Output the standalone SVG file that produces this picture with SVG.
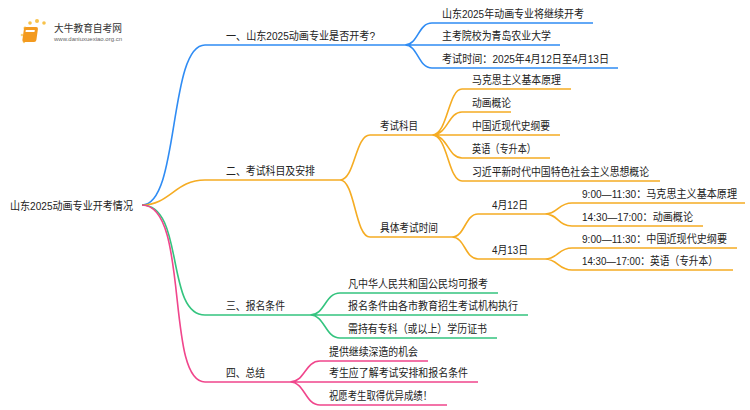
<svg xmlns="http://www.w3.org/2000/svg" width="750" height="410" viewBox="0 0 750 410">
<style>
text{font-family:"Liberation Sans","Noto Sans CJK SC",sans-serif;font-size:11.5px;fill:#222}
path{fill:none;stroke-width:1.6}
.b{stroke:#2f8cf4}.o{stroke:#f5ac23}.g{stroke:#34c47f}.p{stroke:#f0468c}
</style>
<rect width="750" height="410" fill="#fff"/>
<g id="logo">
<circle cx="25" cy="28" r="1.5" fill="#f8c24a"/><circle cx="30" cy="23" r="1.8" fill="#f8c24a"/><circle cx="37" cy="21" r="2" fill="#f8c24a"/><circle cx="44" cy="23" r="1.8" fill="#f8c24a"/><circle cx="22" cy="35" r="1.3" fill="#f8d27a"/><circle cx="24" cy="42" r="1.2" fill="#f8d27a"/>
<rect x="28" y="27" width="14" height="15" rx="2" fill="#f39a1f" transform="skewX(-8)"/>
<rect x="30" y="30" width="9" height="2" fill="#fff" transform="skewX(-8)"/>
<text x="54" y="32" textLength="68" lengthAdjust="spacingAndGlyphs" style="font-size:10px;fill:#333">大牛教育自考网</text>
<text x="54" y="41" textLength="68" lengthAdjust="spacingAndGlyphs" style="font-size:5px;fill:#666">www.daniuxuexiao.org.cn</text>
</g>
<g id="connectors">
<path class="b" d="M142 205C180 205 168 45 205 45H405M405 45C418 45 418 23 432 23H593M405 45H560M405 45C418 45 418 68 432 68H618"/>
<path class="o" d="M142 205C170 205 175 180 205 180H340M340 180C355 180 355 135 370 135H432M340 180C355 180 355 237 370 237H452"/>
<path class="o" d="M432 135C448 135 448 89 462 89H571M432 135C448 135 448 112 462 112H511M432 135H560M432 135C448 135 448 158 462 158H550M432 135C448 135 448 181 462 181H660"/>
<path class="o" d="M452 237C465 237 465 214 478 214H545M452 237C465 237 465 259 478 259H545"/>
<path class="o" d="M545 214C558 214 558 203 572 203H745M545 214C558 214 558 226 572 226H703M545 259C558 259 558 248 572 248H737M545 259C558 259 558 270 572 270H733"/>
<path class="g" d="M142 205C185 205 165 315 205 315H310M310 315C325 315 325 293 340 293H498M310 315H528M310 315C325 315 325 338 340 338H497"/>
<path class="p" d="M142 205C190 205 165 382 205 382H290M290 382C305 382 305 361 320 361H428M290 382H478M290 382C305 382 305 405 320 405H447"/>
</g>
<g id="root"><text x="10" y="210" textLength="123" lengthAdjust="spacingAndGlyphs">山东2025动画专业开考情况</text></g>
<g id="n1"><text x="226" y="40" textLength="149" lengthAdjust="spacingAndGlyphs">一、山东2025动画专业是否开考?</text>
<text x="442" y="18" textLength="142" lengthAdjust="spacingAndGlyphs">山东2025年动画专业将继续开考</text>
<text x="442" y="40" textLength="109" lengthAdjust="spacingAndGlyphs">主考院校为青岛农业大学</text>
<text x="442" y="63" textLength="167" lengthAdjust="spacingAndGlyphs">考试时间：2025年4月12日至4月13日</text></g>
<g id="n2"><text x="226" y="175" textLength="89" lengthAdjust="spacingAndGlyphs">二、考试科目及安排</text>
<text x="380" y="130" textLength="38" lengthAdjust="spacingAndGlyphs">考试科目</text>
<text x="472" y="84" textLength="89" lengthAdjust="spacingAndGlyphs">马克思主义基本原理</text>
<text x="472" y="107" textLength="39" lengthAdjust="spacingAndGlyphs">动画概论</text>
<text x="472" y="130" textLength="78" lengthAdjust="spacingAndGlyphs">中国近现代史纲要</text>
<text x="472" y="153" textLength="64" lengthAdjust="spacingAndGlyphs">英语（专升本）</text>
<text x="472" y="176" textLength="177" lengthAdjust="spacingAndGlyphs">习近平新时代中国特色社会主义思想概论</text>
<text x="380" y="232" textLength="58" lengthAdjust="spacingAndGlyphs">具体考试时间</text>
<text x="492" y="209" textLength="36" lengthAdjust="spacingAndGlyphs">4月12日</text>
<text x="492" y="254" textLength="36" lengthAdjust="spacingAndGlyphs">4月13日</text>
<text x="582" y="198" textLength="155" lengthAdjust="spacingAndGlyphs">9:00—11:30：马克思主义基本原理</text>
<text x="582" y="221" textLength="111" lengthAdjust="spacingAndGlyphs">14:30—17:00：动画概论</text>
<text x="582" y="243" textLength="145" lengthAdjust="spacingAndGlyphs">9:00—11:30：中国近现代史纲要</text>
<text x="582" y="265" textLength="136" lengthAdjust="spacingAndGlyphs">14:30—17:00：英语（专升本）</text></g>
<g id="n3"><text x="226" y="310" textLength="59" lengthAdjust="spacingAndGlyphs">三、报名条件</text>
<text x="348" y="288" textLength="140" lengthAdjust="spacingAndGlyphs">凡中华人民共和国公民均可报考</text>
<text x="348" y="310" textLength="170" lengthAdjust="spacingAndGlyphs">报名条件由各市教育招生考试机构执行</text>
<text x="348" y="333" textLength="139" lengthAdjust="spacingAndGlyphs">需持有专科（或以上）学历证书</text></g>
<g id="n4"><text x="226" y="377" textLength="39" lengthAdjust="spacingAndGlyphs">四、总结</text>
<text x="329" y="356" textLength="89" lengthAdjust="spacingAndGlyphs">提供继续深造的机会</text>
<text x="329" y="377" textLength="139" lengthAdjust="spacingAndGlyphs">考生应了解考试安排和报名条件</text>
<text x="329" y="400" textLength="103" lengthAdjust="spacingAndGlyphs">祝愿考生取得优异成绩！</text></g>
</svg>
